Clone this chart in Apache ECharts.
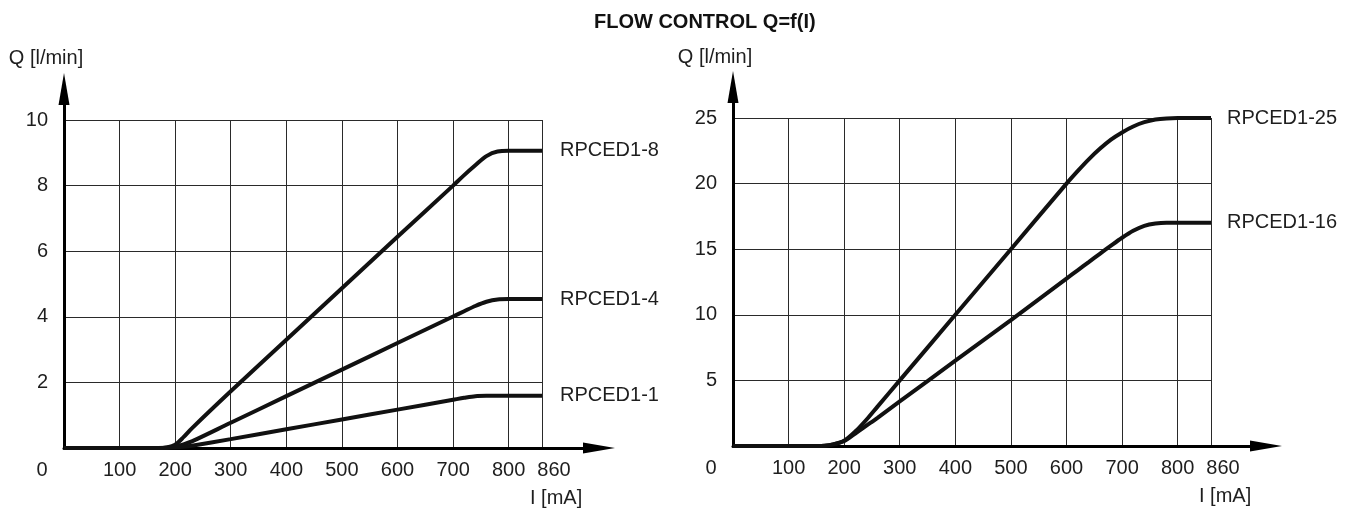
<!DOCTYPE html>
<html>
<head>
<meta charset="utf-8">
<script src="https://cdn.jsdelivr.net/npm/echarts@6/dist/echarts.min.js"></script>
<style>
html,body{margin:0;padding:0;background:#fff;}
#chart{width:1359px;height:515px;}
</style>
</head>
<body>
<div id="chart"></div>
<script>
// ---- data ----
var chartTitle = 'FLOW CONTROL Q=f(I)';
var currentLeft = [0,150,170,185,200,215,230,300,400,500,600,700,720,740,760,780,800,860];
var q_RPCED1_8 = [0,0,0,0.02,0.1,0.33,0.6,1.73,3.3,4.87,6.44,8.0,8.32,8.62,8.9,9.04,9.06,9.06];
var q_RPCED1_4 = [0,0,0,0.01,0.05,0.11,0.2,0.77,1.58,2.39,3.2,4.01,4.17,4.33,4.46,4.53,4.54,4.54];
var q_RPCED1_1 = [0,0,0,0.005,0.02,0.04,0.07,0.27,0.57,0.87,1.17,1.47,1.53,1.58,1.59,1.59,1.59,1.59];

var currentRight = [0,150,165,180,200,220,240,260,300,400,500,600,620,640,660,680,700,720,740,760,780,800,860];
var q_RPCED1_25 = [0,0,0.02,0.12,0.4,1.1,2.0,3.0,5,10,15,20,20.95,21.85,22.65,23.35,23.9,24.35,24.68,24.88,24.97,25,25];
var q_RPCED1_16 = [0,0,0.02,0.12,0.38,0.95,1.55,2.15,3.4,6.5,9.6,12.76,13.39,14.02,14.65,15.27,15.87,16.4,16.78,16.96,17.02,17.02,17.02];

var xMax = 860, xStep = 100;
var yMaxLeft = 10, yStepLeft = 2;
var yMaxRight = 25, yStepRight = 5;
var yName = 'Q [l/min]';
var xName = 'I [mA]';

// ---- helpers ----
function pairs(xs, ys){ return xs.map(function(x,i){ return [x, ys[i]]; }); }
var FONT = 'Liberation Sans, Arial, Helvetica, sans-serif';
var TXT = '#1e1e1e';
var FS = 20;

function xLabelFmt(v){
  if (v === 0) return '{o|0}';
  if (v === xMax) return '{e|' + v + '}';
  return '{n|' + v + '}';
}
var xRich = {
  o: {padding:[0,44,0,0], fontSize:FS, fontFamily:FONT, color:TXT},
  e: {padding:[0,0,0,24], fontSize:FS, fontFamily:FONT, color:TXT},
  n: {fontSize:FS, fontFamily:FONT, color:TXT}
};

function mainX(gi){
  return {
    gridIndex: gi, type:'value', min:0, max:xMax, interval:xStep,
    axisLine:{show:false}, axisTick:{show:false},
    axisLabel:{show:true, margin:12, formatter:xLabelFmt, rich:xRich, showMaxLabel:true, showMinLabel:true},
    splitLine:{show:true, lineStyle:{color:'#2a2a2a', width:1}}
  };
}
function nameX(gi){
  return {
    gridIndex: gi, type:'value', min:0, max:xMax, position:'bottom', offset:50,
    axisLine:{show:false}, axisTick:{show:false}, axisLabel:{show:false}, splitLine:{show:false},
    name: xName, nameLocation:'end', nameGap:-12,
    nameTextStyle:{fontSize:FS, fontFamily:FONT, color:TXT, align:'left', verticalAlign:'middle'}
  };
}
function mainY(gi, max, step){
  return {
    gridIndex: gi, type:'value', min:0, max:max, interval:step,
    axisLine:{show:false}, axisTick:{show:false},
    axisLabel:{margin:16, fontSize:FS, fontFamily:FONT, color:TXT, formatter:function(v){ return v === 0 ? '' : String(v); }},
    splitLine:{show:true, lineStyle:{color:'#2a2a2a', width:1}}
  };
}
var arrowLine = {show:true, onZero:true, symbol:['none','triangle'], symbolSize:[11,32], symbolOffset:[0,16], lineStyle:{color:'#000', width:3}};
function arrowX(gi){
  return {gridIndex:gi, type:'value', min:0, max:1, axisLine:arrowLine, axisTick:{show:false}, axisLabel:{show:false}, splitLine:{show:false}};
}
function arrowY(gi, gap){
  return {gridIndex:gi, type:'value', min:0, max:1, axisLine:arrowLine, axisTick:{show:false}, axisLabel:{show:false}, splitLine:{show:false},
    name:yName, nameLocation:'end', nameGap:gap,
    nameTextStyle:{fontSize:FS, fontFamily:FONT, color:TXT, align:'center', verticalAlign:'middle', padding:[0,36,0,0]}};
}
function curve(name, xi, yi, xs, ys, dist){
  return {
    name:name, type:'line', xAxisIndex:xi, yAxisIndex:yi, data:pairs(xs, ys),
    smooth:0.3, showSymbol:false, symbol:'none',
    lineStyle:{color:'#111', width:4}, z:5, silent:true,
    endLabel:{show:true, formatter:'{a}', distance:dist, fontSize:FS, fontFamily:FONT, color:TXT}
  };
}

var option = {
  animation:false,
  backgroundColor:'#fff',
  title:{text:chartTitle, left:589, top:7, textStyle:{fontSize:20, fontWeight:'bold', fontFamily:FONT, color:'#111'}},
  grid:[
    {left:64, top:120, width:478, height:328},
    {left:64, top:105, width:519, height:343},
    {left:733, top:118, width:478, height:328},
    {left:733, top:103, width:517, height:343}
  ],
  xAxis:[ mainX(0), arrowX(1), mainX(2), arrowX(3), nameX(0), nameX(2) ],
  yAxis:[ mainY(0, yMaxLeft, yStepLeft), arrowY(1, 47), mainY(2, yMaxRight, yStepRight), arrowY(3, 46) ],
  series:[
    curve('RPCED1-8', 0, 0, currentLeft, q_RPCED1_8, 18),
    curve('RPCED1-4', 0, 0, currentLeft, q_RPCED1_4, 18),
    curve('RPCED1-1', 0, 0, currentLeft, q_RPCED1_1, 18),
    curve('RPCED1-25', 2, 2, currentRight, q_RPCED1_25, 16),
    curve('RPCED1-16', 2, 2, currentRight, q_RPCED1_16, 16)
  ]
};
var chart = echarts.init(document.getElementById('chart'), null, {renderer:'canvas'});
chart.setOption(option);
</script>
</body>
</html>
